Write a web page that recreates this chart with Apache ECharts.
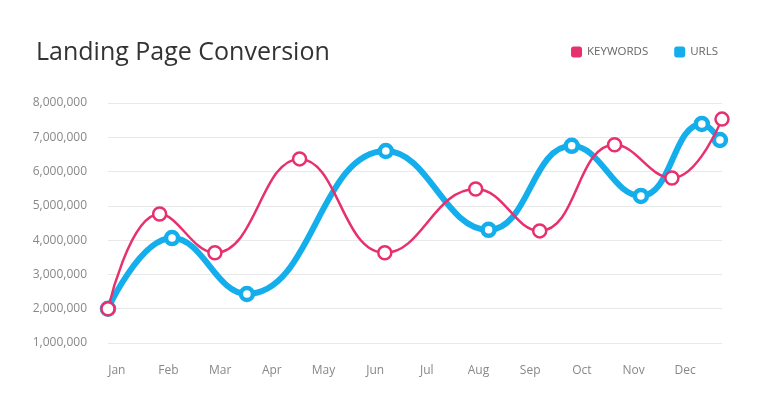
<!DOCTYPE html>
<html>
<head>
<meta charset="utf-8">
<script src="https://cdn.jsdelivr.net/npm/echarts@6/dist/echarts.min.js"></script>
<style>
html,body{margin:0;padding:0;background:#fff;}
#chart{width:768px;height:417px;}
</style>
</head>
<body>
<div id="chart"></div>
<script>
var monthLabels = ['Jan','Feb','Mar','Apr','May','Jun','Jul','Aug','Sep','Oct','Nov','Dec'];
// x positions in month units (Jan = 1)
var keywordsX = [0.83, 1.83, 2.90, 4.54, 6.19, 7.95, 9.19, 10.64, 11.75, 12.72];
var keywordsY = [2000000, 4760000, 3630000, 6370000, 3630000, 5490000, 4270000, 6780000, 5810000, 7530000];
var urlsX = [0.83, 2.07, 3.52, 6.21, 8.20, 9.81, 11.15, 12.33, 12.68];
var urlsY = [2000000, 4060000, 2430000, 6600000, 4300000, 6750000, 5290000, 7390000, 6920000];

function pairs(xs, ys){ return xs.map(function(x,i){ return [x, ys[i]]; }); }

var pink = '#E8306E', blue = '#13AEEB';
var font = 'Open Sans';
var chart = echarts.init(document.getElementById('chart'), null, {renderer:'canvas'});
chart.setOption({
  backgroundColor:'#fff',
  animation:false,
  color:[pink, blue],
  textStyle:{fontFamily:font},
  title:{
    text:'Landing Page Conversion',
    left:31, top:35,
    textStyle:{fontFamily:font, fontSize:25, fontWeight:'normal', color:'#333'}
  },
  legend:{
    right:45, top:41,
    icon:'roundRect', itemWidth:11, itemHeight:11, itemGap:26,
    textStyle:{fontFamily:font, fontSize:11.5, color:'#666'},
    data:[
      {name:'KEYWORDS', itemStyle:{color:pink, borderWidth:0}},
      {name:'URLS', itemStyle:{color:blue, borderWidth:0}}
    ]
  },
  grid:[
    {left:108, right:46, top:103, bottom:74},
    {left:91, width:620, top:103, bottom:74}
  ],
  xAxis:[
    {type:'value', gridIndex:0, min:0.83, max:12.72,
     axisLine:{show:false}, axisTick:{show:false}, axisLabel:{show:false}, splitLine:{show:false}},
    {type:'category', gridIndex:1, data:monthLabels, boundaryGap:true,
     axisLine:{show:false}, axisTick:{show:false}, splitLine:{show:false},
     axisLabel:{margin:22, fontFamily:font, fontSize:12, color:'#888'}}
  ],
  yAxis:[
    {type:'value', gridIndex:0, min:1000000, max:8000000, interval:1000000,
     axisLine:{show:false}, axisTick:{show:false},
     axisLabel:{margin:21, fontFamily:font, fontSize:12, color:'#888',
       formatter:function(v){ return v.toString().replace(/\B(?=(\d{3})+(?!\d))/g, ','); }},
     splitLine:{lineStyle:{color:'#e8e8e8', width:1}}},
    {type:'value', gridIndex:1, show:false, min:0, max:1}
  ],
  series:[
    {name:'KEYWORDS', type:'line', xAxisIndex:0, yAxisIndex:0, smooth:0.45,
     data:pairs(keywordsX, keywordsY),
     symbol:'circle', symbolSize:13, showAllSymbol:true,
     itemStyle:{color:'#fff', borderColor:pink, borderWidth:2.5},
     lineStyle:{color:pink, width:2.5},
     z:3},
    {name:'URLS', type:'line', xAxisIndex:0, yAxisIndex:0, smooth:0.45,
     data:pairs(urlsX, urlsY),
     symbol:'circle', symbolSize:12, showAllSymbol:true,
     itemStyle:{color:'#fff', borderColor:blue, borderWidth:4.5},
     lineStyle:{color:blue, width:6},
     z:2}
  ]
});
</script>
</body>
</html>
